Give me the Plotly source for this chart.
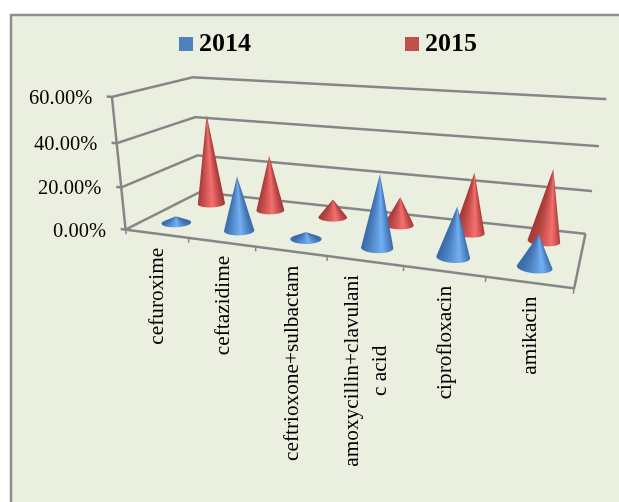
import numpy as np
import plotly.graph_objects as go

categories = ["cefuroxime", "ceftazidime", "ceftrioxone+sulbactam", "amoxycillin+clavulani<br>c acid", "ciprofloxacin", "amikacin"]
series_names = ["2014", "2015"]
values_2014 = [3.2, 25.5, 3.2, 32.5, 22, 14]
values_2015 = [45, 27.5, 9, 13.5, 28, 32.5]
value_ticks = [0, 20, 40, 60]
tick_labels = ["0.00%", "20.00%", "40.00%", "60.00%"]

FONT = "Liberation Serif"
AXIS = "#868686"
W, H = 619, 640
X_RANGE = [-0.3, 6.05]
Y_RANGE = [-0.1, 2.05]
Z_RANGE = [-4.0, 62.0]
ASPECT = [2.11667, 0.76637, 0.6606]
EYE = [1.09414, -3.2513, 0.81539]
CENTER = [-0.174, 0.0, -0.77036]
UP = [0.00264, 0.00103, 1.0]
kx = ASPECT[0] / (X_RANGE[1] - X_RANGE[0])
ky = ASPECT[1] / (Y_RANGE[1] - Y_RANGE[0])
right = np.array([-EYE[1] + CENTER[1], EYE[0] - CENTER[0]])
right = right / np.hypot(*right)


def mix(a, b, t):
    return "rgb(%d,%d,%d)" % tuple(round(a[i] + (b[i] - a[i]) * t) for i in range(3))


def cone(cat, row, value, dark, light, n=72):
    cx, cy = cat + 0.5, row + 0.5
    rx = 0.21
    ry = rx * kx / ky
    X, Y, Z, C, I, J, K = [], [], [], [], [], [], []
    phi = np.linspace(0, 2 * np.pi, n + 1)
    for p in phi:
        side = np.cos(p) * right[0] + np.sin(p) * right[1]
        t = max(0.0, 1 - abs(side - 0.2) / (1.2 if side < 0.2 else 0.8))
        col = mix(dark, light, t ** 1.1)
        X += [cx + rx * np.cos(p), cx]
        Y += [cy + ry * np.sin(p), cy]
        Z += [0, value]
        C += [col, col]
    for s in range(n):
        a = 2 * s
        I += [a, a + 1]
        J += [a + 2, a + 2]
        K += [a + 1, a + 3]
    return go.Mesh3d(x=X, y=Y, z=Z, i=I, j=J, k=K, vertexcolor=C, hoverinfo="skip", showlegend=False,
                     lighting=dict(ambient=1, diffuse=0, specular=0, fresnel=0, roughness=1), flatshading=False)


fig = go.Figure()


def line(x, y, z, width=5):
    fig.add_trace(go.Scatter3d(x=x, y=y, z=z, mode="lines", line=dict(color=AXIS, width=width),
                               hoverinfo="skip", showlegend=False))


for z in value_ticks:
    line([-0.08, 0, 0, 6], [0, 0, 2, 2], [z, z, z, z])
line([0, 0, 6, 6], [0, 0, 0, 2], [60, 0, 0, 0])
for i in range(7):
    line([i, i], [0, 0], [0, -2.2], 3)
for i, v in enumerate(values_2015):
    fig.add_trace(cone(i, 1, v, (165, 58, 56), (246, 112, 110)))
for i, v in enumerate(values_2014):
    fig.add_trace(cone(i, 0, v, (58, 108, 170), (116, 176, 244)))

ann = []
for z, t in zip(value_ticks, tick_labels):
    ann.append(dict(x=0, y=0, z=z, text=t, showarrow=False, xanchor="right", xshift=-18,
                    font=dict(family=FONT, size=20.5, color="#000000")))
for i, t in enumerate(categories):
    ann.append(dict(x=i + 0.5, y=0, z=0, text=t, showarrow=False, textangle=-90, xanchor="center", yanchor="top",
                    yshift=-12, font=dict(family=FONT, size=21.3, color="#000000")))


def ax(kw):
    return dict(visible=False, showspikes=False, **kw)


def px(x):
    return x / W


def py(y):
    return 1 - y / H


fig.update_layout(
    width=W, height=H, margin=dict(l=0, r=0, t=0, b=0), paper_bgcolor="#FFFFFF",
    scene=dict(domain=dict(x=[0, 1], y=[0, 1]), bgcolor="rgba(0,0,0,0)", aspectmode="manual",
               aspectratio=dict(x=ASPECT[0], y=ASPECT[1], z=ASPECT[2]),
               camera=dict(eye=dict(x=EYE[0], y=EYE[1], z=EYE[2]), center=dict(x=CENTER[0], y=CENTER[1], z=CENTER[2]),
                           up=dict(x=UP[0], y=UP[1], z=UP[2])),
               xaxis=ax(dict(range=X_RANGE)), yaxis=ax(dict(range=Y_RANGE)), zaxis=ax(dict(range=Z_RANGE)),
               annotations=ann),
    shapes=[
        dict(type="rect", xref="paper", yref="paper", x0=px(11), x1=1.02, y0=-0.02, y1=py(15),
             fillcolor="#EBEFDF", line=dict(color="#8F8F8F", width=2.5), layer="below"),
        dict(type="rect", xref="paper", yref="paper", x0=px(179), x1=px(193), y0=py(51), y1=py(37),
             fillcolor="#4F81BD", line=dict(width=0)),
        dict(type="rect", xref="paper", yref="paper", x0=px(405), x1=px(419), y0=py(51), y1=py(37),
             fillcolor="#C0504D", line=dict(width=0)),
    ],
    annotations=[
        dict(xref="paper", yref="paper", x=px(197), y=py(43), text="<b>%s</b>" % series_names[0], showarrow=False,
             xanchor="left", yanchor="middle", font=dict(family=FONT, size=26, color="#000000")),
        dict(xref="paper", yref="paper", x=px(423), y=py(43), text="<b>%s</b>" % series_names[1], showarrow=False,
             xanchor="left", yanchor="middle", font=dict(family=FONT, size=26, color="#000000")),
    ],
)
fig.write_html("out.html", config=dict(displayModeBar=False),
               post_script="document.body.style.margin='0';document.documentElement.style.overflow='hidden';document.body.style.overflow='hidden';")
